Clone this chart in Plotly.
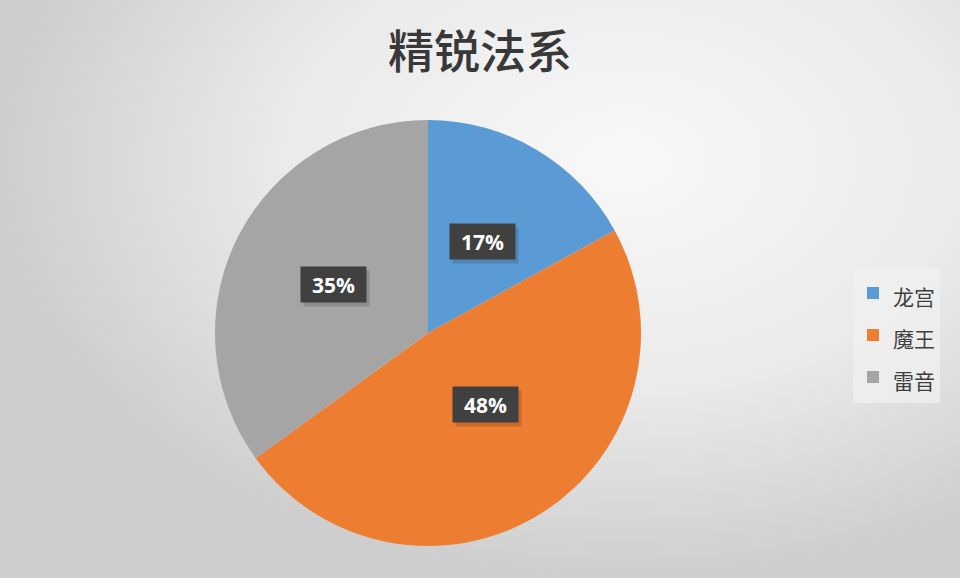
import math
import plotly.graph_objects as go

# data
labels = ["龙宫", "魔王", "雷音"]
shares = [17, 48, 35]
colors = ["#5B9BD5", "#ED7D31", "#A5A5A5"]
title_text = "精锐法系"

W, H = 960, 578
# pie placement in pixels (center and radius)
cx, cy, R = 428, 333, 213

fig = go.Figure()

# soft radial background, white near the upper middle, grey at the edges
fig.add_trace(go.Scatter(
    x=[0, 1.3, 1.3, 0, 0], y=[0, 0, 1.44, 1.44, 0],
    mode="lines", fill="toself", line=dict(width=0),
    fillgradient=dict(type="radial",
                      colorscale=[[0, "#F8F8F8"], [0.55, "#EAEAEA"], [1, "#CECECE"]]),
    hoverinfo="skip", showlegend=False,
))

legend_fs = 30
fig.add_trace(go.Pie(
    labels=[f'<span style="font-size:21px">{l}</span>' for l in labels],
    values=shares,
    marker=dict(colors=colors, line=dict(width=0)),
    sort=False, direction="clockwise", rotation=0,
    textinfo="none", hoverinfo="label+percent",
    domain=dict(x=[(cx - R) / W, (cx + R) / W], y=[1 - (cy + R) / H, 1 - (cy - R) / H]),
))

# dark label boxes at half radius of each slice
total = sum(shares)
cum = 0
for v in shares:
    mid = (cum + v / 2) / total * 2 * math.pi
    cum += v
    px = cx + 0.5 * R * math.sin(mid)
    py = cy - 0.5 * R * math.cos(mid)
    common = dict(x=px / W, y=1 - py / H, xref="paper", yref="paper",
                  showarrow=False, width=63, height=33)
    fig.add_annotation(text=" ", bgcolor="rgba(0,0,0,0.15)", xshift=3, yshift=-4, **common)
    fig.add_annotation(text=f"<b>{v}%</b>", bgcolor="#404040",
                       font=dict(family="Open Sans", size=21, color="white"), **common)

fig.update_layout(
    width=W, height=H,
    margin=dict(l=0, r=0, t=0, b=0),
    paper_bgcolor="#DCDCDC", plot_bgcolor="rgba(0,0,0,0)",
    xaxis=dict(range=[0, 1], visible=False, fixedrange=True),
    yaxis=dict(range=[0, 1], visible=False, fixedrange=True),
    title=dict(text=title_text, x=0.5, xanchor="center", y=1 - 52 / H, yanchor="middle",
               font=dict(family="Noto Sans CJK SC", size=46, color="#383838", weight=500)),
    legend=dict(x=853 / W, y=1 - 267 / H, xanchor="left", yanchor="top",
                bgcolor="rgba(240,240,240,0.75)", borderwidth=0,
                font=dict(family="Noto Sans CJK SC", size=legend_fs, color="#404040")),
    font=dict(family="Noto Sans CJK SC"),
)

fig.write_html("out.html", config={"displayModeBar": False},
               post_script="document.body.style.margin='0';")
